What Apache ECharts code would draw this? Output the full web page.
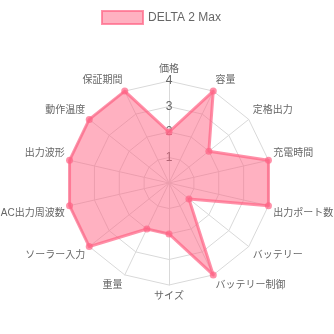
<!DOCTYPE html>
<html>
<head>
<meta charset="utf-8">
<script src="https://cdn.jsdelivr.net/npm/echarts@6/dist/echarts.min.js"></script>
<style>
html,body{margin:0;padding:0;background:#fff;}
#chart{width:334px;height:334px;}
</style>
</head>
<body>
<div id="chart"></div>
<script>
// Indicators in clockwise order starting at the top
const categories = ['価格','容量','定格出力','充電時間','出力ポート数','バッテリー','バッテリー制御','サイズ','重量','ソーラー入力','AC出力周波数','出力波形','動作温度','保証期間'];
const seriesName = 'DELTA 2 Max';
const values = [2,4,2,4,4,1,4,2,2,4,4,4,4,4];
const tickLabels = ['1','2','3','4'];
const scaleMax = 4;

// ECharts places radar indicators counter-clockwise; reorder to get clockwise layout
const order = [0];
for (let i = categories.length - 1; i >= 1; i--) order.push(i);

const FONT = "'Liberation Sans', Arial, 'Noto Sans CJK JP', sans-serif";

const indicator = order.map((i, k) => {
  const o = { name: categories[i], min: 0, max: scaleMax };
  if (k === 0) {
    o.axisLabel = {
      show: true,
      color: '#666',
      fontSize: 12,
      fontFamily: FONT,
      margin: 0,
      align: 'center',
      verticalAlign: 'middle',
      showMinLabel: false,
      formatter: function (v) { return v > 0 ? tickLabels[Math.round(v) - 1] : ''; }
    };
  }
  return o;
});

// Name placement: labels in the upper half sit above their anchor, lower half below
function nameFormatter(name) {
  const n = categories.length;
  const idx = categories.indexOf(name);
  const deg = idx * 360 / n;
  if (Math.abs(deg) < 1 || Math.abs(deg - 180) < 1) return name;
  if (deg < 90 || deg > 270) return name + '\n ';
  return ' \n' + name;
}

const chart = echarts.init(document.getElementById('chart'), null, { renderer: 'canvas' });
chart.setOption({
  animation: false,
  legend: {
    top: 10,
    left: 101,
    padding: 0,
    itemWidth: 41,
    itemHeight: 13,
    icon: 'rect',
    textStyle: { color: '#666', fontSize: 12, fontFamily: FONT },
    itemStyle: { color: 'rgba(255,99,132,0.5)', borderColor: 'rgba(255,99,132,0.7)', borderWidth: 2 },
    data: [seriesName]
  },
  radar: {
    center: [169, 183],
    radius: 102,
    startAngle: 90,
    shape: 'polygon',
    splitNumber: 4,
    nameGap: 5,
    axisName: { color: '#666', fontSize: 10, lineHeight: 12, fontFamily: FONT, formatter: nameFormatter },
    splitLine: { lineStyle: { color: '#d9d9d9', width: 1 } },
    splitArea: { show: false },
    axisLine: { lineStyle: { color: '#d9d9d9', width: 1 } },
    axisTick: { show: false },
    axisLabel: { show: false },
    indicator: indicator
  },
  series: [{
    type: 'radar',
    name: seriesName,
    symbol: 'circle',
    symbolSize: 7,
    lineStyle: { color: 'rgba(255,99,132,0.7)', width: 3 },
    itemStyle: { color: 'rgba(255,99,132,0.7)' },
    areaStyle: { color: 'rgba(255,99,132,0.5)', opacity: 1 },
    data: [{ name: seriesName, value: order.map(i => values[i]) }]
  }]
});
</script>
</body>
</html>
